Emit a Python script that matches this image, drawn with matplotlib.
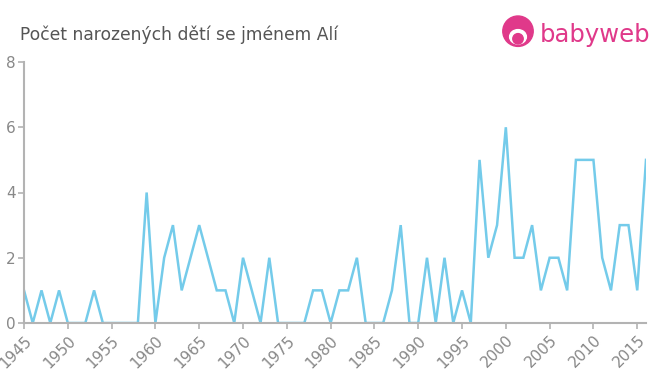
import matplotlib
matplotlib.use("Agg")
import matplotlib.pyplot as plt
from matplotlib.patches import Circle, Ellipse

years = list(range(1945, 2017))
counts = [1, 0, 1, 0, 1, 0, 0, 0, 1, 0,
          0, 0, 0, 0, 4, 0, 2, 3, 1, 2,
          3, 2, 1, 1, 0, 2, 1, 0, 2, 0,
          0, 0, 0, 1, 1, 0, 1, 1, 2, 0,
          0, 0, 1, 3, 0, 0, 2, 0, 2, 0,
          1, 0, 5, 2, 3, 6, 2, 2, 3, 1,
          2, 2, 1, 5, 5, 5, 2, 1, 3, 3,
          1, 5]
xticks = list(range(1945, 2016, 5))
yticks = [0, 2, 4, 6, 8]
title = "Počet narozených dětí se jménem Alí"

grey = "#888888"
axis_grey = "#b3b3b3"
pink = "#e0398a"

fig = plt.figure(figsize=(6.6, 3.75), dpi=100)
ax = fig.add_axes([24/660, 1-323/375, (646-24)/660, (323-62)/375])
ax.plot(years, counts, color="#74cbea", lw=1.8, solid_joinstyle="miter")
ax.set_xlim(1945, 2016)
ax.set_ylim(0, 8)
ax.set_xticks(xticks)
ax.set_xticklabels([str(x) for x in xticks], rotation=45, ha="right",
                   rotation_mode="anchor", fontsize=11, color=grey)
ax.set_yticks(yticks)
ax.set_yticklabels([str(y) for y in yticks], fontsize=11, color=grey)
for s in ["top", "right"]:
    ax.spines[s].set_visible(False)
for s in ["left", "bottom"]:
    ax.spines[s].set_color(axis_grey)
    ax.spines[s].set_linewidth(1.5)
ax.tick_params(axis="both", colors=axis_grey, length=4, width=1.2, pad=2)
ax.tick_params(axis="x", pad=3)
for lbl in ax.get_xticklabels() + ax.get_yticklabels():
    lbl.set_color(grey)
ax.set_clip_on(False)

fig.text(20/660, 1-35/375, title, fontsize=12.3, color="#555555", va="center", ha="left")

# logo
lax = fig.add_axes([498/660, 1-52/375, 40/660, 40/375])
lax.set_xlim(0, 1); lax.set_ylim(0, 1); lax.axis("off")
lax.add_patch(Circle((0.5, 0.52), 0.38, color=pink))
lax.add_patch(Ellipse((0.5, 0.38), 0.42, 0.36, color="white"))
lax.add_patch(Circle((0.5, 0.33), 0.13, color=pink))
fig.text(540/660, 1-35/375, "babyweb", fontsize=17.5, color=pink, va="center", ha="left")

fig.savefig("out.png", dpi=100)
